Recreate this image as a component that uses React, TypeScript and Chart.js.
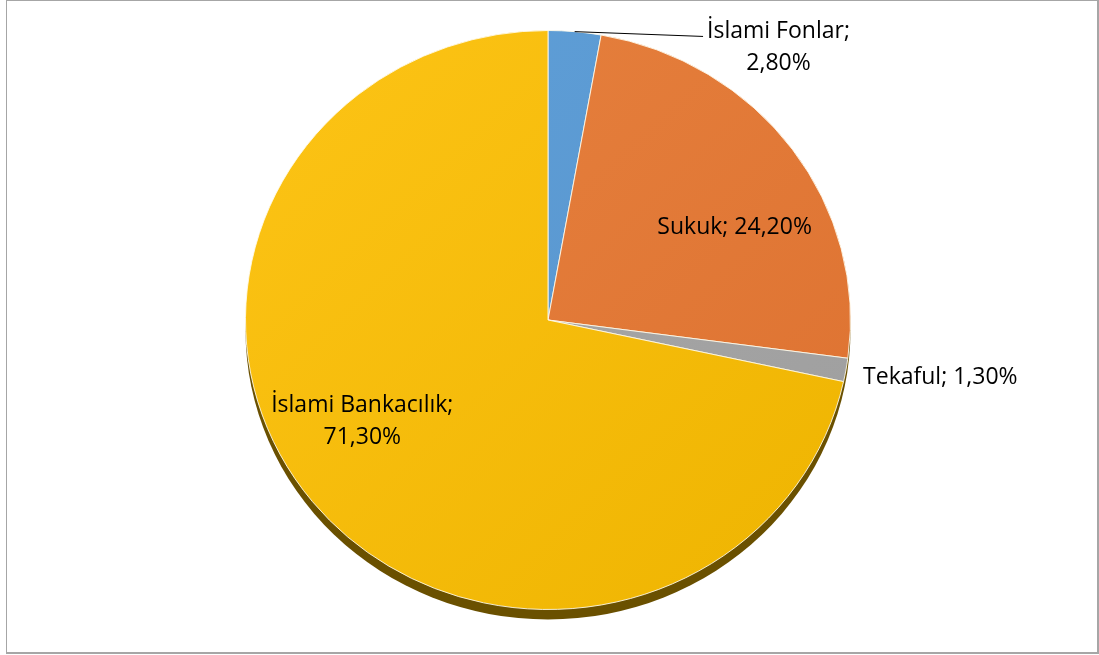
import React, { useEffect, useRef } from "react";
import { Chart, registerables } from "chart.js";

Chart.register(...registerables);

// ---- data ----
const categories = ["İslami Fonlar", "Sukuk", "Tekaful", "İslami Bankacılık"];
const shares = [2.8, 24.2, 1.3, 71.3];
const valueLabels = ["2,80%", "24,20%", "1,30%", "71,30%"];

// ---- styles ----
const colorsLight = ["#5fa0d9", "#e7823f", "#aaaaaa", "#fdc416"];
const colorsDark = ["#5792ca", "#dd7130", "#9e9e9e", "#eeb400"];
const SHADOW_COLOR = "#6a5000";
const Y_SCALE = 0.957; // slight tilt of the pie
const SHADOW_OFFSET = 10;
const FONT = '23px "Open Sans", "Noto Sans", sans-serif';
const LINE_GAP = 32;

// label anchor offsets in units of radius (relative to pie centre)
const LABEL_LAYOUT = [
  { dx: 0.762, dy: -0.901, twoLines: true, leader: true },
  { dx: 0.617, dy: -0.307, twoLines: false, leader: false },
  { dx: 1.297, dy: 0.191, twoLines: false, leader: false },
  { dx: -0.614, dy: 0.335, twoLines: true, leader: false },
];

const tiltPlugin = {
  id: "tiltShadow",
  beforeDatasetsDraw(chart: any) {
    const meta = chart.getDatasetMeta(0);
    const arc = meta.data[0];
    if (!arc) return;
    const { x, y, outerRadius } = arc;
    const ctx = chart.ctx;
    ctx.save();
    ctx.translate(x, y);
    ctx.scale(1, Y_SCALE);
    ctx.translate(-x, -y);
    ctx.beginPath();
    ctx.arc(x, y + SHADOW_OFFSET / Y_SCALE, outerRadius, 0, Math.PI * 2);
    ctx.fillStyle = SHADOW_COLOR;
    ctx.fill();
  },
  afterDatasetsDraw(chart: any) {
    chart.ctx.restore();
  },
};

const labelPlugin = {
  id: "sliceLabels",
  afterDraw(chart: any) {
    const meta = chart.getDatasetMeta(0);
    const ctx = chart.ctx;
    ctx.save();
    ctx.font = FONT;
    ctx.fillStyle = "#000";
    ctx.textAlign = "center";
    ctx.textBaseline = "middle";
    meta.data.forEach((arc: any, i: number) => {
      const L = LABEL_LAYOUT[i];
      const R = arc.outerRadius;
      const cx = arc.x + L.dx * R;
      const cy = arc.y + L.dy * R;
      const name = categories[i] + ";";
      const val = valueLabels[i];
      if (L.twoLines) {
        ctx.fillText(name, cx, cy - LINE_GAP / 2);
        ctx.fillText(val, cx, cy + LINE_GAP / 2);
      } else {
        ctx.fillText(name + " " + val, cx, cy);
      }
      if (L.leader) {
        const mid = (arc.startAngle + arc.endAngle) / 2;
        const sx = arc.x + R * Math.cos(mid);
        const sy = arc.y + R * Y_SCALE * Math.sin(mid);
        const w = ctx.measureText(name).width;
        const ex = cx - w / 2 - 4;
        const ey = cy - LINE_GAP / 2 + 5;
        ctx.beginPath();
        ctx.moveTo(sx, sy);
        ctx.lineTo(ex, ey);
        ctx.strokeStyle = "#000";
        ctx.lineWidth = 1;
        ctx.stroke();
      }
    });
    ctx.restore();
  },
};

export default function App() {
  const ref = useRef<HTMLCanvasElement | null>(null);

  useEffect(() => {
    if (!ref.current) return;
    const chart = new Chart(ref.current, {
      type: "pie",
      data: {
        labels: categories,
        datasets: [
          {
            data: shares,
            backgroundColor: (c: any) => {
              const i = c.dataIndex;
              const area = c.chart.chartArea;
              if (!area) return colorsLight[i];
              const g = c.chart.ctx.createLinearGradient(area.left, area.top, area.right, area.bottom);
              g.addColorStop(0, colorsLight[i]);
              g.addColorStop(1, colorsDark[i]);
              return g;
            },
            borderColor: "rgba(255,250,235,0.9)",
            borderWidth: 1,
          },
        ],
      },
      options: {
        responsive: false,
        animation: false,
        rotation: 0,
        layout: { padding: { left: 245, right: 248, top: 17, bottom: 32 } },
        plugins: {
          legend: { display: false },
          tooltip: { enabled: false },
        },
        events: [],
      },
      plugins: [tiltPlugin, labelPlugin],
    } as any);
    return () => chart.destroy();
  }, []);

  return (
    <div
      style={{
        position: "fixed",
        left: 0,
        top: 0,
        width: 1099,
        height: 655,
        background: "#fff",
        overflow: "hidden",
      }}
    >
      <canvas ref={ref} width={1099} height={655} style={{ position: "absolute", left: 0, top: 0 }} />
      <div
        style={{
          position: "absolute",
          left: 6,
          top: 0,
          width: 1090,
          height: 651,
          borderLeft: "1px solid #a6a6a6",
          borderTop: "1px solid #a6a6a6",
          borderRight: "2px solid #a6a6a6",
          borderBottom: "2px solid #a6a6a6",
          pointerEvents: "none",
        }}
      />
    </div>
  );
}
